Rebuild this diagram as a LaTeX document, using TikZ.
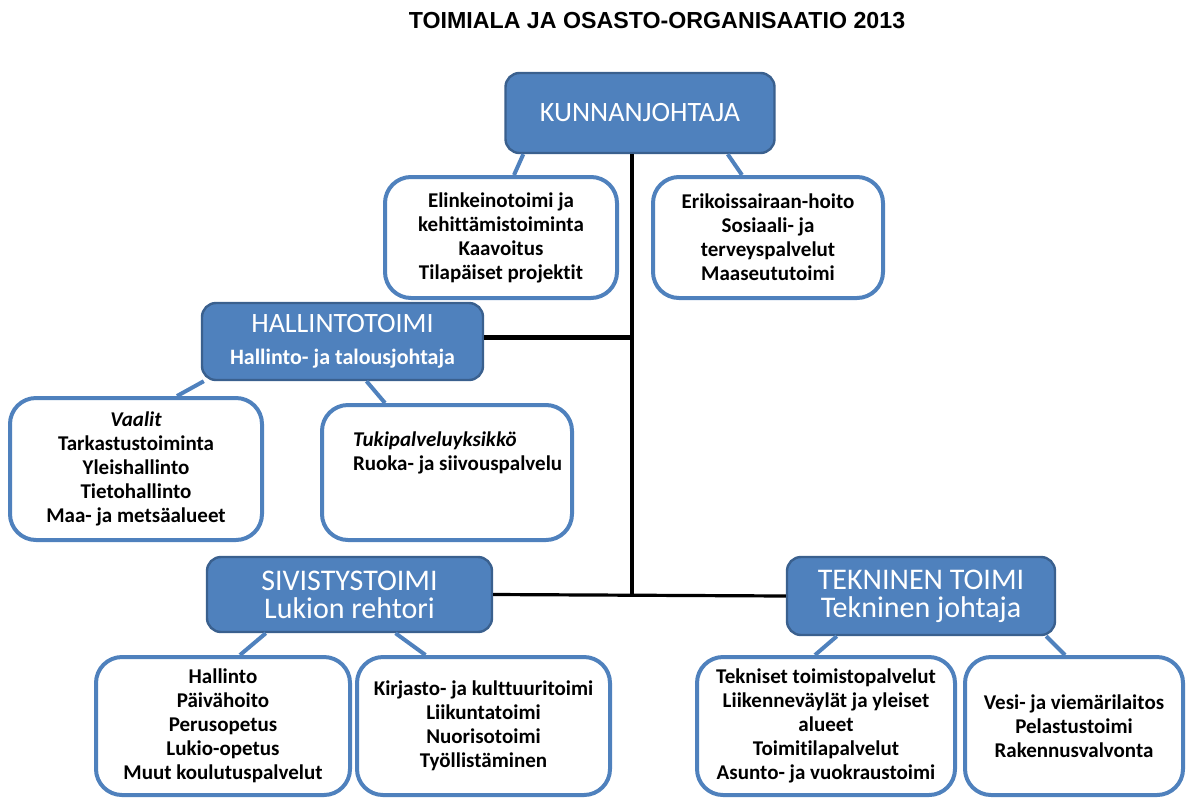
\documentclass[tikz,border=0pt]{standalone}
\usepackage{fontspec}
\setmainfont{Carlito}[Ligatures=NoCommon]
\newfontfamily\arialfont{Liberation Sans}
\usepackage{xcolor}

\definecolor{boxblue}{RGB}{79,129,189}
\definecolor{boxedge}{RGB}{58,96,142}

\begin{document}
\begin{tikzpicture}[x=0.5pt, y=-0.5pt,
	headbox/.style={draw=boxedge, line width=1.2pt, fill=boxblue, rounded corners=7pt, text=white, align=center, inner sep=0pt},
	unitbox/.style={draw=boxblue, line width=2pt, fill=white, rounded corners=13pt, align=center, inner sep=0pt, font=\bfseries\fontsize{10.5}{12}\selectfont},
	tail/.style={draw=boxblue, line width=2pt},
	trunk/.style={line width=2pt}]

\useasboundingbox (0,0) rectangle (1187,798);

\node[font=\arialfont\bfseries\fontsize{11.6}{13}\selectfont] (title) at (657,21) {TOIMIALA JA OSASTO-ORGANISAATIO 2013};

% paaosastot
\node[headbox, minimum width=134.5pt, minimum height=40pt, font=\fontsize{14}{14}\selectfont] (kunnan) at (640,113) {KUNNANJOHTAJA};
\node[headbox, minimum width=140.5pt, minimum height=38.5pt] (hallinto) at (342.5,341.5)
	{{\fontsize{14}{14}\selectfont HALLINTOTOIMI}\\[4pt]{\bfseries\fontsize{11}{11}\selectfont Hallinto- ja talousjohtaja}};
\node[headbox, minimum width=142.5pt, minimum height=37.5pt, font=\fontsize{15}{15}\selectfont] (sivis) at (349.5,594.5)
	{SIVISTYSTOIMI\\[-1pt]Lukion rehtori};
\node[headbox, minimum width=134pt, minimum height=39pt, font=\fontsize{15}{15}\selectfont] (tekn) at (921,596)
	{TEKNINEN TOIMI\\[-1pt]Tekninen johtaja};

% yksikot
\node[unitbox, minimum width=116pt, minimum height=60.5pt] (elink) at (501,237.5)
	{Elinkeinotoimi ja\\kehittämistoiminta\\Kaavoitus\\Tilapäiset projektit};
\node[unitbox, minimum width=115pt, minimum height=60.5pt] (erik) at (768,237.5)
	{Erikoissairaan-hoito\\Sosiaali- ja\\terveyspalvelut\\Maaseututoimi};
\node[unitbox, minimum width=126pt, minimum height=71pt] (vaalit) at (136,469)
	{\itshape Vaalit\\Tarkastustoiminta\\Yleishallinto\\Tietohallinto\\Maa- ja metsäalueet};
\node[unitbox, minimum width=125pt, minimum height=67.5pt] (tuki) at (447,472.5) {};
\node[unitbox, draw=none, fill=none, align=left, anchor=north west] (tukitext) at (351,430)
	{\itshape Tukipalveluyksikkö\\Ruoka- ja siivouspalvelu};
\node[unitbox, minimum width=127pt, minimum height=69pt] (sivhall) at (223,726)
	{Hallinto\\Päivähoito\\Perusopetus\\Lukio-opetus\\Muut koulutuspalvelut};
\node[unitbox, minimum width=126.5pt, minimum height=69pt] (kirj) at (483.5,726)
	{Kirjasto- ja kulttuuritoimi\\Liikuntatoimi\\Nuorisotoimi\\Työllistäminen};
\node[unitbox, minimum width=129pt, minimum height=69pt] (teksp) at (826,726)
	{Tekniset toimistopalvelut\\Liikenneväylät ja yleiset\\alueet\\Toimitilapalvelut\\Asunto- ja vuokraustoimi};
\node[unitbox, minimum width=109pt, minimum height=69pt] (vesi) at (1074,726)
	{Vesi- ja viemärilaitos\\Pelastustoimi\\Rakennusvalvonta};

% runko
\coordinate (jA) at (632,337);
\coordinate (jB) at (632,596);
\draw[trunk] (kunnan.south -| jB) -- (jB);
\draw[line width=2.5pt] (hallinto.east |- jA) -- (jA);
\draw[line width=1.6pt] (sivis.east) -- (tekn.west);

% haarat
\draw[tail] ([xshift=9.5pt]kunnan.south west) -- ([xshift=6.5pt]elink.north);
\draw[tail] ([xshift=-24pt]kunnan.south east) -- ([xshift=-13pt]erik.north);
\draw[tail] ([xshift=1.5pt]hallinto.south west) -- ([xshift=20.5pt]vaalit.north);
\draw[tail] ([xshift=12pt]hallinto.south) -- ([xshift=-31pt]tuki.north);
\draw[tail] ([xshift=30pt]sivis.south west) -- ([xshift=8.5pt]sivhall.north);
\draw[tail] ([xshift=23pt]sivis.south) -- ([xshift=-29pt]kirj.north);
\draw[tail] ([xshift=25.5pt]tekn.south west) -- ([xshift=-5.5pt]teksp.north);
\draw[tail] ([xshift=-5pt]tekn.south east) -- ([xshift=-4.5pt]vesi.north);

\end{tikzpicture}
\end{document}
